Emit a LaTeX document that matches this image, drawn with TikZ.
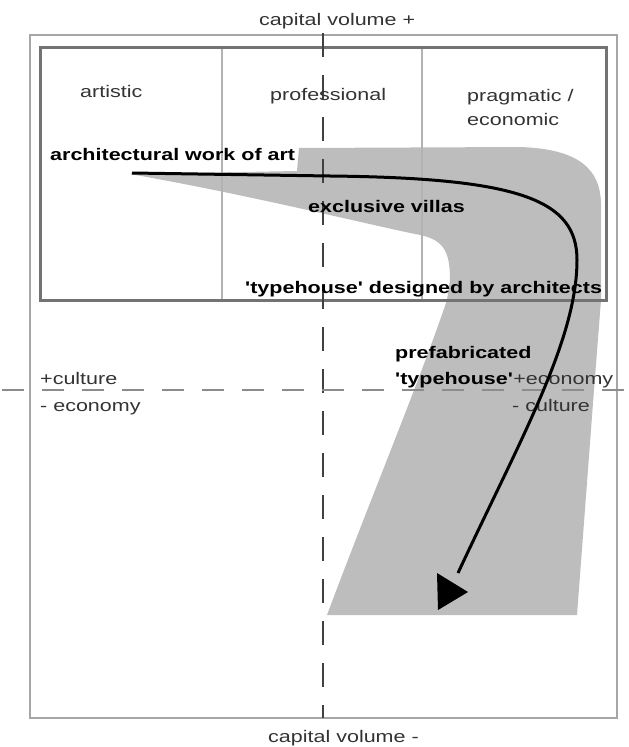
\documentclass[tikz,border=0pt]{standalone}
\usepackage{fontspec}
\setmainfont{Liberation Sans}[Ligatures=TeXOff]
\usepackage{graphicx}
\usepackage{tikz}
\newcommand{\widetext}[1]{\scalebox{1.28}[1]{#1}}

\begin{document}
\begin{tikzpicture}[
  x=1pt, y=-1pt,
  lbl/.style={anchor=base west, inner sep=0pt, text=black!80,
              font=\fontsize{16.8}{20}\selectfont},
  blbl/.style={lbl, text=black, font=\fontsize{16.8}{20}\selectfont\bfseries},
  frame/.style={draw=black!35, line width=2.5pt},
  box/.style={draw=black!55, line width=3pt},
  divider/.style={draw=black!30, line width=2pt},
  axis/.style={line width=2pt, dash pattern=on 24pt off 18pt},
  band/.style={fill=black!26},
  flow/.style={line width=3pt, black}
]
\useasboundingbox (0,0) rectangle (629,747);

% grey band behind the path
\fill[band] (130,174) -- (297,171) -- (299,148) -- (520,147)
  .. controls (580,149) and (601,170) .. (601,205)
  -- (601,300) -- (594,390) -- (577,615) -- (327,615)
  .. controls (370,500) and (420,380) .. (447,300)
  -- (450,280) .. controls (450,252) and (444,240) .. (420,235)
  .. controls (370,225) and (250,195) .. (130,174) -- cycle;

% frames
\draw[frame] (30,35) rectangle (617,718);
\draw[divider] (222,47) -- (222,300);
\draw[divider] (422,47) -- (422,300);
\draw[box] (40,47) rectangle (606,300);

% axes
\draw[axis, black!75] (323,33) -- (323,718);
\draw[axis, black!45, dash pattern=on 22pt off 18pt] (2,390) -- (629,390);

% labels
\node[lbl] (cvtop) at (259,25) {\widetext{capital volume +}};
\node[lbl] (cvbot) at (268,742) {\widetext{capital volume -}};
\node[lbl] (artistic) at (80,97) {\widetext{artistic}};
\node[lbl] (professional) at (270,100) {\widetext{professional}};
\node[lbl] (pragmatic) at (467,101) {\widetext{pragmatic /}};
\node[lbl] (economic) at (467,125) {\widetext{economic}};
\node[blbl] (artwork) at (50,160) {\widetext{architectural work of art}};
\node[blbl] (villas) at (308,212) {\widetext{exclusive villas}};
\node[blbl] (archtype) at (245,293) {\widetext{'typehouse' designed by architects}};
\node[blbl] (prefab) at (395,358) {\widetext{prefabricated}};
\node[blbl] (prefabtype) at (395,384) {\widetext{'typehouse'}};
\node[lbl] (pluseco) at (prefabtype.base east) {\widetext{+economy}};
\node[lbl] (minuscul) at (512,411) {\widetext{- culture}};
\node[lbl] (pluscul) at (40,384) {\widetext{+culture}};
\node[lbl] (minuseco) at (40,411) {\widetext{- economy}};

% the path from work of art to typehouse
\coordinate (start) at (132,173);
\coordinate (flat) at (330,176);
\coordinate (turn) at (577,260);
\coordinate (tip) at (458,573);
\draw[flow] (start) -- (flat) .. controls (520,178) and (577,200) .. (turn)
  .. controls (577,340) and (520,440) .. (tip);
\fill (437,573) -- (468,592) -- (438,610) -- cycle;
\end{tikzpicture}
\end{document}
